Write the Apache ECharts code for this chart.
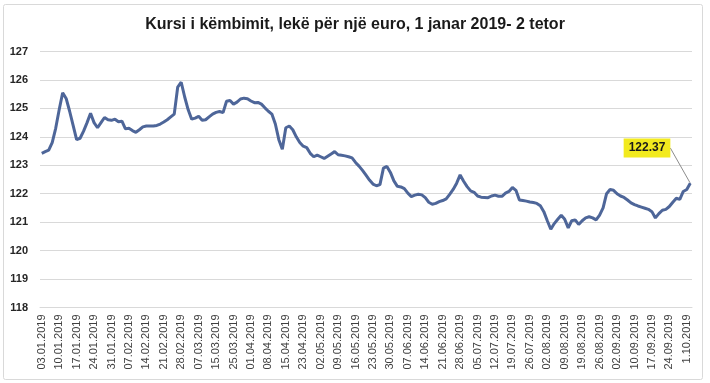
<!DOCTYPE html>
<html>
<head>
<meta charset="utf-8">
<script src="https://cdn.jsdelivr.net/npm/echarts@6/dist/echarts.min.js"></script>
<style>html,body{margin:0;padding:0;background:#fff;}#c{width:710px;height:383px;}</style>
</head>
<body>
<div id="c"></div>
<script>
const titleText = 'Kursi i këmbimit, lekë për një euro, 1 janar 2019- 2 tetor';
const tickLabels = ['03.01.2019','10.01.2019','17.01.2019','24.01.2019','31.01.2019','07.02.2019','14.02.2019','21.02.2019','28.02.2019','07.03.2019','15.03.2019','25.03.2019','01.04.2019','08.04.2019','15.04.2019','23.04.2019','02.05.2019','09.05.2019','16.05.2019','23.05.2019','30.05.2019','07.06.2019','14.06.2019','21.06.2019','28.06.2019','05.07.2019','12.07.2019','19.07.2019','26.07.2019','02.08.2019','09.08.2019','19.08.2019','26.08.2019','02.09.2019','10.09.2019','17.09.2019','24.09.2019','1.10.2019'];
const rates = [
123.42,123.48,123.53,123.80,124.30,124.95,125.55,125.35,124.90,124.40,
123.90,123.95,124.20,124.50,124.83,124.50,124.32,124.50,124.68,124.60,
124.58,124.62,124.53,124.55,124.28,124.30,124.22,124.16,124.25,
124.35,124.38,124.38,124.38,124.40,124.45,124.52,124.60,124.70,124.80,
125.75,125.92,125.40,124.95,124.62,124.66,124.72,124.58,124.60,124.70,
124.80,124.86,124.89,124.85,125.25,125.28,125.15,125.22,125.33,125.36,
125.34,125.26,125.20,125.21,125.15,125.02,124.90,124.80,124.45,
123.90,123.56,124.32,124.38,124.25,124.00,123.80,123.67,123.62,123.42,
123.30,123.36,123.30,123.24,123.32,123.40,123.48,123.37,123.35,123.33,
123.30,123.26,123.10,122.97,122.82,122.65,122.48,122.34,122.28,122.32,
122.90,122.96,122.75,122.45,122.26,122.24,122.18,122.02,121.90,
121.95,121.98,121.96,121.86,121.70,121.63,121.66,121.72,121.76,121.82,
121.98,122.15,122.37,122.66,122.44,122.25,122.10,122.05,121.92,121.88,
121.87,121.86,121.92,121.95,121.91,121.91,122.02,122.08,122.22,122.12,
121.78,121.76,121.74,121.71,121.69,121.66,121.58,121.37,121.05,
120.75,120.95,121.10,121.24,121.10,120.80,121.05,121.08,120.92,121.05,
121.15,121.19,121.15,121.08,121.25,121.50,122.00,122.15,122.12,122.00,
121.92,121.87,121.78,121.68,121.62,121.57,121.53,121.49,121.45,121.37,
121.15,121.30,121.42,121.45,121.55,121.70,121.84,121.80,122.08,122.15,122.37
];
const labelStep = 5;
const yMin = 118, yMax = 127, yStep = 1;

const categories = rates.map((v, i) => (i % labelStep === 0 && tickLabels[i / labelStep]) ? tickLabels[i / labelStep] : '#' + i);
const last = rates.length - 1;
const seriesData = rates.map((v, i) => i === last ? {
  value: v,
  symbolSize: 1,
  label: {
    show: true,
    formatter: (p) => p.value.toFixed(2),
    backgroundColor: '#F2EA1E',
    color: '#1a1a1a',
    fontFamily: 'Liberation Sans',
    fontWeight: 'bold',
    fontSize: 12,
    padding: [4, 5, 3, 5]
  }
} : {value: v, symbolSize: 0});

const chart = echarts.init(document.getElementById('c'), null, {renderer: 'canvas'});
chart.setOption({
  animation: false,
  backgroundColor: '#fff',
  title: {
    text: titleText,
    left: 'center',
    top: 12,
    textStyle: {fontFamily: 'Liberation Sans', fontWeight: 'bold', fontSize: 16, color: '#1a1a1a'}
  },
  graphic: [{
    type: 'rect', shape: {x: 3.5, y: 4.5, width: 699, height: 375, r: 2},
    style: {fill: 'none', stroke: '#d9d9d9', lineWidth: 1}, silent: true, z: -1
  }],
  grid: {left: 40, right: 18, top: 51.5, bottom: 75.5, containLabel: false},
  xAxis: {
    type: 'category',
    data: categories,
    boundaryGap: true,
    axisLine: {show: true, lineStyle: {color: '#d9d9d9'}},
    axisTick: {show: false},
    axisLabel: {
      interval: labelStep - 1,
      rotate: 90,
      margin: 7,
      fontFamily: 'Liberation Sans',
      fontSize: 11,
      color: '#404040',
      formatter: (v) => v.charAt(0) === '#' ? '' : v
    },
    splitLine: {show: false}
  },
  yAxis: {
    type: 'value',
    min: yMin, max: yMax, interval: yStep,
    axisLine: {show: false},
    axisTick: {show: false},
    axisLabel: {margin: 12, fontFamily: 'Liberation Sans', fontWeight: 'bold', fontSize: 11, color: '#262626'},
    splitLine: {lineStyle: {color: '#d9d9d9', width: 1}}
  },
  series: [{
    type: 'line',
    data: seriesData,
    showSymbol: true,
    showAllSymbol: true,
    symbol: 'circle',
    smooth: false,
    lineStyle: {color: '#4E6699', width: 3},
    itemStyle: {color: '#4E6699'},
    label: {show: false},
    labelLine: {show: true, lineStyle: {color: '#8c8c8c', width: 1}},
    labelLayout: function (params) {
      if (params.dataIndex === last) {
        return {x: 647, y: 148, align: 'center', verticalAlign: 'middle'};
      }
    }
  }]
});
</script>
</body>
</html>
